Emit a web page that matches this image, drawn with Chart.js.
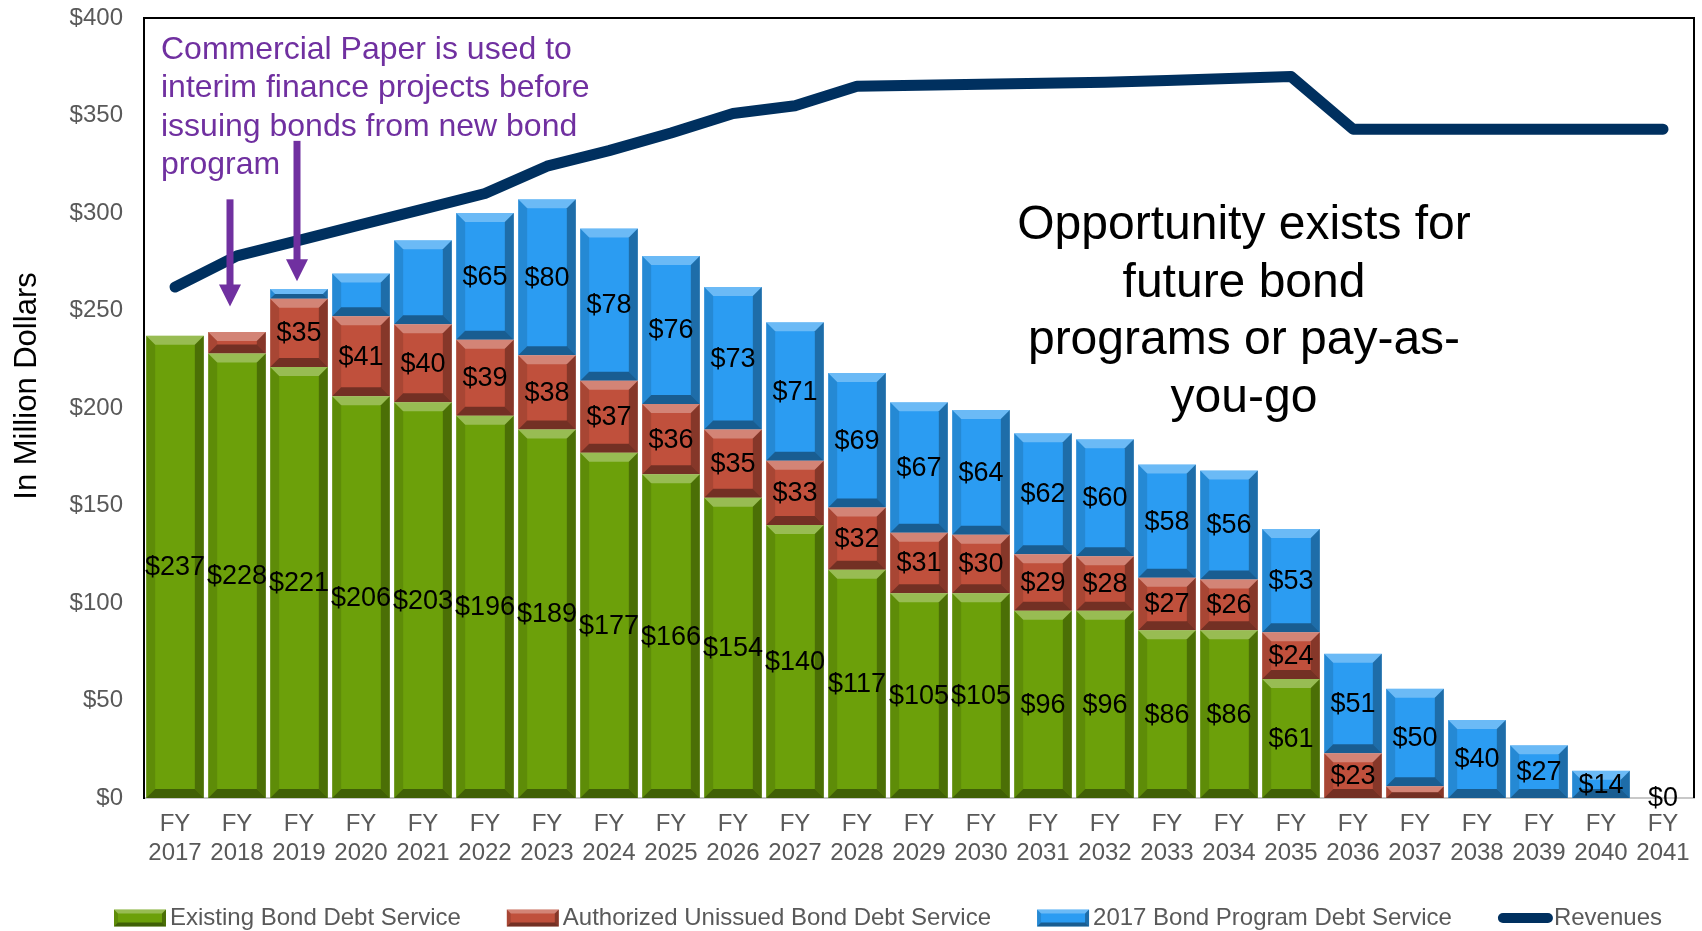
<!DOCTYPE html>
<html>
<head>
<meta charset="utf-8">
<script src="https://cdn.jsdelivr.net/npm/chart.js@4.4.0/dist/chart.umd.min.js"></script>
<style>
html, body { margin: 0; padding: 0; background: #fff; }
#wrap { width: 1702px; height: 931px; }
</style>
</head>
<body>
<div id="wrap"><canvas id="debtChart"></canvas></div>
<script>
const FONT = "'Liberation Sans', Arial, sans-serif";

const years = ['2017', '2018', '2019', '2020', '2021', '2022', '2023', '2024', '2025', '2026', '2027', '2028', '2029',
  '2030', '2031', '2032', '2033', '2034', '2035', '2036', '2037', '2038', '2039', '2040', '2041'];
const existing = [237, 228, 221, 206, 203, 196, 189, 177, 166, 154, 140, 117, 105, 105, 96, 96, 86, 86, 61, 0, 0, 0, 0, 0, 0];
const authorized = [0, 11, 35, 41, 40, 39, 38, 37, 36, 35, 33, 32, 31, 30, 29, 28, 27, 26, 24, 23, 6, 0, 0, 0, 0];
const newProgram = [0, 0, 5, 22, 43, 65, 80, 78, 76, 73, 71, 69, 67, 64, 62, 60, 58, 56, 53, 51, 50, 40, 27, 14, 0];
const revenues = [262, 278, 286, 294, 302, 310, 324, 332, 341, 351, 355, 365, 365.5, 366, 366.5, 367, 368, 369, 370,
  343, 343, 343, 343, 343, 343];
// indexes that get no "$" label (zeros and thin slivers)
const unlabelled = [
  [19, 20, 21, 22, 23],
  [0, 1, 20, 21, 22, 23, 24],
  [0, 1, 2, 3, 4, 24]
];

const GREEN = '#6ca00a', RED = '#c0503c', BLUE = '#2b9cf2', NAVY = '#00305f', PURPLE = '#7030a0', GREY = '#595959';

function bevel(ctx, l, t, w, h, size) {
  const b = Math.min(size, h / 2, w / 2);
  const r = l + w, bt = t + h;
  const face = (pts, style) => {
    ctx.beginPath();
    ctx.moveTo(pts[0][0], pts[0][1]);
    pts.slice(1).forEach(p => ctx.lineTo(p[0], p[1]));
    ctx.closePath();
    ctx.fillStyle = style;
    ctx.fill();
  };
  face([[l, t], [r, t], [r - b, t + b], [l + b, t + b]], 'rgba(255,255,255,0.3)');
  face([[r, t], [r, bt], [r - b, bt - b], [r - b, t + b]], 'rgba(0,0,0,0.3)');
  face([[l, t], [l + b, t + b], [l + b, bt - b], [l, bt]], 'rgba(0,0,0,0.12)');
  face([[l, bt], [l + b, bt - b], [r - b, bt - b], [r, bt]], 'rgba(0,0,0,0.4)');
}

const bevelPlugin = {
  id: 'bevel',
  afterDatasetDraw(chart, args) {
    if (args.meta.type !== 'bar') return;
    const ctx = chart.ctx;
    ctx.save();
    args.meta.data.forEach(bar => {
      const p = bar.getProps(['x', 'y', 'base', 'width'], true);
      const h = p.base - p.y;
      if (h < 1) return;
      bevel(ctx, p.x - p.width / 2, p.y, p.width, h, 9);
    });
    ctx.restore();
  }
};

const valueLabels = {
  id: 'valueLabels',
  afterDatasetsDraw(chart) {
    const ctx = chart.ctx;
    ctx.save();
    ctx.font = '27px ' + FONT;
    ctx.fillStyle = '#000';
    ctx.textAlign = 'center';
    ctx.textBaseline = 'middle';
    [0, 1, 2].forEach(di => {
      const meta = chart.getDatasetMeta(di);
      const values = chart.data.datasets[di].data;
      meta.data.forEach((bar, i) => {
        if (unlabelled[di].includes(i)) return;
        const p = bar.getProps(['x', 'y', 'base'], true);
        ctx.fillText('$' + values[i], p.x, (p.y + p.base) / 2 + 1);
      });
    });
    ctx.restore();
  }
};

const frame = {
  id: 'frame',
  beforeDatasetsDraw(chart) {
    const a = chart.chartArea, ctx = chart.ctx;
    ctx.save();
    ctx.strokeStyle = '#000';
    ctx.lineWidth = 2;
    ctx.beginPath();
    ctx.moveTo(a.left, a.top);
    ctx.lineTo(a.right, a.top);
    ctx.lineTo(a.right, a.bottom);
    ctx.stroke();
    ctx.restore();
  }
};

const notes = {
  id: 'notes',
  afterDraw(chart) {
    const ctx = chart.ctx, x = chart.scales.x, y = chart.scales.y, a = chart.chartArea;
    ctx.save();
    // axis title, sits a little above the middle of the axis
    ctx.save();
    ctx.translate(27, 386);
    ctx.rotate(-Math.PI / 2);
    ctx.fillStyle = '#000';
    ctx.font = '31px ' + FONT;
    ctx.textAlign = 'center';
    ctx.textBaseline = 'middle';
    ctx.fillText('In Million Dollars', 0, 0);
    ctx.restore();
    // purple callout
    ctx.fillStyle = PURPLE;
    ctx.font = '32px ' + FONT;
    ctx.textAlign = 'left';
    ctx.textBaseline = 'middle';
    ['Commercial Paper is used to', 'interim finance projects before', 'issuing bonds from new bond', 'program']
      .forEach((t, i) => ctx.fillText(t, a.left + 17, 50 + i * 38.5));
    [[1, -7, 307, 252], [2, -2, 337, 265]].forEach(([ci, dx, from, to]) => {
      const ax = x.getPixelForValue(ci) + dx, y0 = y.getPixelForValue(from), y1 = y.getPixelForValue(to);
      ctx.fillRect(ax - 3.5, y0, 7, y1 - y0 - 20);
      ctx.beginPath();
      ctx.moveTo(ax - 11, y1 - 22);
      ctx.lineTo(ax + 11, y1 - 22);
      ctx.lineTo(ax, y1);
      ctx.closePath();
      ctx.fill();
    });
    // opportunity text
    ctx.fillStyle = '#000';
    ctx.font = '48px ' + FONT;
    ctx.textAlign = 'center';
    ['Opportunity exists for', 'future bond', 'programs or pay-as-', 'you-go']
      .forEach((t, i) => ctx.fillText(t, 1244, 226 + i * 57.5));
    ctx.restore();
  }
};

const legendRow = {
  id: 'legendRow',
  afterDraw(chart) {
    const ctx = chart.ctx, cy = 918;
    let cx = 114;
    ctx.save();
    ctx.font = '24px ' + FONT;
    ctx.textBaseline = 'middle';
    ctx.textAlign = 'left';
    chart.data.datasets.forEach(ds => {
      if (ds.type === 'line') {
        ctx.strokeStyle = ds.borderColor;
        ctx.lineWidth = 10;
        ctx.lineCap = 'round';
        ctx.beginPath();
        ctx.moveTo(cx + 5, cy);
        ctx.lineTo(cx + 50, cy);
        ctx.stroke();
      } else {
        ctx.fillStyle = ds.backgroundColor;
        ctx.fillRect(cx, cy - 8.5, 52, 17);
        bevel(ctx, cx, cy - 8.5, 52, 17, 4);
      }
      ctx.fillStyle = GREY;
      ctx.fillText(ds.label, cx + 56, cy);
      cx += 56 + ctx.measureText(ds.label).width + 46;
    });
    ctx.restore();
  }
};

new Chart(document.getElementById('debtChart'), {
  data: {
    labels: years.map(yr => ['FY', yr]),
    datasets: [
      { type: 'bar', label: 'Existing Bond Debt Service', data: existing, backgroundColor: GREEN, stack: 'debt', order: 1 },
      { type: 'bar', label: 'Authorized Unissued Bond Debt Service', data: authorized, backgroundColor: RED, stack: 'debt', order: 1 },
      { type: 'bar', label: '2017 Bond Program Debt Service', data: newProgram, backgroundColor: BLUE, stack: 'debt', order: 1 },
      {
        type: 'line', label: 'Revenues', data: revenues, borderColor: NAVY, backgroundColor: NAVY, borderWidth: 11,
        borderCapStyle: 'round', borderJoinStyle: 'round', pointRadius: 0, tension: 0, stack: 'rev', order: 0, clip: false
      }
    ]
  },
  options: {
    responsive: true,
    maintainAspectRatio: false,
    animation: false,
    barPercentage: 0.93,
    categoryPercentage: 1,
    layout: { padding: { top: 18, right: 8, left: 0, bottom: 0 } },
    plugins: { legend: { display: false }, tooltip: { enabled: false } },
    scales: {
      x: {
        stacked: true,
        grid: { display: false, drawTicks: false },
        border: { color: '#c8c8c8', width: 2 },
        ticks: { color: GREY, font: { size: 24, family: FONT }, padding: 12, autoSkip: false, maxRotation: 0 },
        afterFit: s => { s.height = 133; s.paddingLeft = 0; s.paddingRight = 0; }
      },
      y: {
        stacked: true,
        min: 0,
        max: 400,
        grid: { display: false, drawTicks: false },
        border: { color: '#000', width: 2 },
        ticks: { stepSize: 50, callback: v => '$' + v, color: GREY, font: { size: 24, family: FONT }, padding: 21 },
        afterFit: s => { s.width = 144; s.paddingTop = 0; s.paddingBottom = 0; }
      }
    }
  },
  plugins: [frame, bevelPlugin, valueLabels, notes, legendRow]
});
</script>
</body>
</html>
